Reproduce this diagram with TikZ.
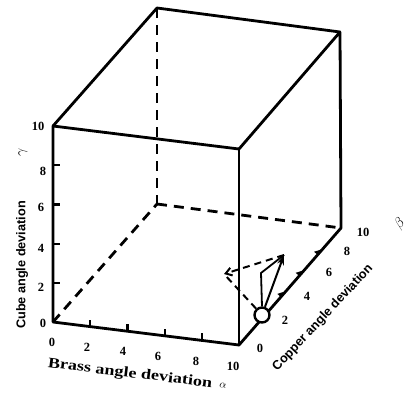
\documentclass[tikz,border=0pt]{standalone}
\usepackage{fontspec}
\setmainfont{Liberation Serif}
\newfontfamily\lsans{Liberation Sans}
\usetikzlibrary{arrows.meta,calc}
\begin{document}
\begin{tikzpicture}[x=1pt,y=-1pt,
  edge/.style={line width=2.8pt, line cap=round, line join=round},
  hid/.style={line width=2.8pt, dash pattern=on 10pt off 7pt},
  tickmark/.style={line width=2.2pt},
  num/.style={font=\fontsize{12.5}{12.5}\selectfont\bfseries, inner sep=0pt},
  sanslab/.style={font=\lsans\bfseries\fontsize{12.7}{13}\selectfont, inner sep=0pt},
  greek/.style={font=\fontsize{14}{14}\selectfont, inner sep=0pt},
  thinvec/.style={line width=1.8pt},
  hidvec/.style={line width=2pt, dash pattern=on 7pt off 5pt}]
\useasboundingbox (0,0) rectangle (409,394);
% cube corners
\coordinate (O) at (53,322);
\coordinate (A) at (239,345);
\coordinate (G) at (53,126);
\coordinate (AG) at (239,149);
\coordinate (H) at (157,204);
\coordinate (B) at (341,228);
\coordinate (HG) at (157,8);
\coordinate (BG) at (340,32);
% hidden edges
\draw[hid] (O) -- (H);
\draw[hid] (HG) -- (H);
\draw[hid] (H) -- (B);
% visible edges
\draw[edge] (G) -- (O) -- (A) -- (B) -- (BG) -- (HG) -- (G) -- (AG) -- (BG);
\draw[edge] (AG) -- (A);
% gamma ticks
\foreach \i in {2,4,6,8} \draw[tickmark] ($(O)!\i/10!(G)$) -- ++(7,0);
% alpha ticks
\foreach \i in {2,4,6,8} \draw[tickmark] ($(O)!\i/10!(A)$) -- ++(0,-7);
% beta ticks (barbs)
\foreach \t in {0.46,0.64,0.82}
  \fill ($(A)!\t!(B)$) -- ++(-5,5.8) -- ++(-3.6,-3.1) -- cycle;
% numbers
\foreach \i/\x/\y in {0/52/342,2/87/347,4/123/351,6/158/356,8/196/361,10/233/366}
  \node[num] (a\i) at (\x,\y) {\i};
\foreach \i/\x/\y in {0/43/323,2/41/287,4/41/248,6/41/207,8/43/171,10/38/126}
  \node[num] (g\i) at (\x,\y) {\i};
\foreach \i/\x/\y in {0/260/348,2/285/320,4/307/296,6/329/272,8/347/251,10/363/232}
  \node[num] (b\i) at (\x,\y) {\i};
% axis labels
\node[font=\fontsize{14.5}{14.5}\selectfont\bfseries, rotate=-7, inner sep=0pt] (alab) at (130,374) {\scalebox{1.25}[1]{Brass angle deviation}};
\node[greek, rotate=-7, font=\fontsize{11}{11}\selectfont] (asym) at (223,386) {$\alpha$};
\node[sanslab, rotate=90] (glab) at (22,265) {Cube angle deviation};
\node[greek, rotate=90] (gsym) at (23,152) {$\gamma$};
\node[sanslab, rotate=47] (blab) at (323,318) {Copper angle deviation};
\node[greek, rotate=47] (bsym) at (400,224) {$\beta$};
% orientation vector
\coordinate (T) at (284,255);
\coordinate (Q) at (261,273);
\coordinate (L) at (224,274);
\node[circle, draw, fill=white, line width=2.4pt, minimum size=15pt, inner sep=0pt] (P) at (262,315) {};
\draw[hidvec] (P) -- (L);
\draw[hidvec, -{Straight Barb[length=6pt,width=8pt]}] (T) -- (L);
\draw[thinvec] (P.north) -- (Q) -- (T);
\draw[line width=2pt, -{Stealth[length=10pt,width=7pt]}] (P) -- (T);
\end{tikzpicture}
\end{document}
